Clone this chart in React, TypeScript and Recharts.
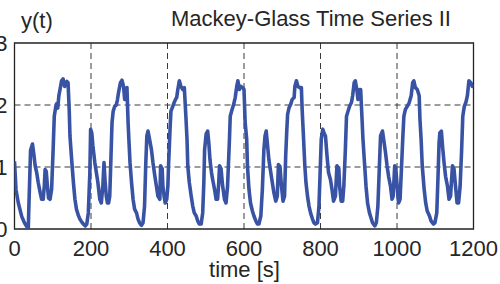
import React from "react";
import { LineChart, Line, XAxis, YAxis, CartesianGrid, ReferenceArea } from "recharts";

const time = [
  0, 4, 10, 19, 26, 32, 36, 38, 42, 47, 51, 54, 58, 62, 67, 71, 75, 78, 80, 83, 86, 89, 93, 97,
  101, 104, 108, 110, 113, 116, 119, 123, 127, 131, 134, 137, 140, 143, 145, 150, 154, 158, 162, 167, 171, 176, 180, 185, 189, 193, 197,
  199, 202, 205, 210, 214, 218, 223, 227, 231, 234, 237, 240, 243, 246, 249, 252, 255, 258, 262, 266, 269, 272, 277, 281, 285, 288, 291, 294, 297, 299,
  302, 306, 310, 314, 319, 323, 327, 332, 336, 340, 343, 346, 349, 353, 358, 362, 367, 371, 375, 380, 382, 386, 388, 391, 394, 398,
  401, 403, 407, 409, 414, 418, 421, 424, 427, 431, 435, 440, 444, 448, 451, 453, 457, 462, 466, 470, 475, 479, 483, 488, 492, 495, 497,
  501, 505, 508, 511, 515, 518, 523, 527, 531, 534, 536, 540, 544, 549, 553, 557, 562, 564, 569, 573, 577, 581, 584, 588, 592, 597, 600,
  603, 607, 609, 613, 617, 622, 626, 631, 635, 639, 644, 648, 652, 655, 658, 661, 665, 670, 674, 678, 683, 687, 690, 694, 698,
  702, 706, 709, 712, 714, 718, 722, 726, 731, 733, 737, 741, 746, 750, 752, 755, 759, 762, 766, 770, 774, 779, 783, 787, 792, 796, 799,
  802, 806, 809, 813, 817, 821, 826, 830, 834, 839, 843, 848, 850, 854, 858, 861, 865, 868, 872, 876, 881, 884, 888, 891, 895, 898,
  902, 905, 909, 911, 915, 919, 923, 928, 932, 936, 942, 946, 950, 954, 957, 962, 965, 970, 974, 978, 983, 987, 990, 994, 997,
  1001, 1004, 1008, 1012, 1015, 1018, 1022, 1027, 1032, 1037, 1041, 1044, 1048, 1053, 1058, 1060, 1063, 1066, 1071, 1075, 1079, 1085, 1089, 1095, 1099,
  1104, 1107, 1110, 1112, 1116, 1119, 1123, 1127, 1132, 1136, 1140, 1145, 1149, 1153, 1157, 1161, 1165, 1169, 1172, 1176, 1180, 1184, 1188, 1193, 1197, 1200,
];

const yValues = [
  1.09, 0.63, 0.42, 0.2, 0.1, 0.04, 0.0, 0.45, 1.27, 1.37, 1.18, 1.02, 0.91, 0.75, 0.59, 0.48, 0.48, 0.7, 0.96, 0.93, 0.7, 0.5, 0.48, 0.64,
  1.28, 1.82, 1.98, 2.02, 1.95, 2.15, 2.25, 2.39, 2.42, 2.3, 2.34, 2.38, 2.36, 1.93, 1.5, 1.07, 0.75, 0.48, 0.32, 0.22, 0.16, 0.11, 0.08, 0.05, 0.08, 0.26, 0.91,
  1.61, 1.55, 1.34, 1.07, 0.91, 0.75, 0.48, 0.42, 0.7, 1.07, 0.75, 0.53, 0.42, 0.42, 0.53, 1.12, 1.72, 1.9, 1.98, 2.0, 2.08, 2.2, 2.36, 2.4, 2.3, 2.09, 2.25, 2.28, 1.71, 1.45,
  1.07, 0.75, 0.48, 0.32, 0.26, 0.16, 0.1, 0.06, 0.1, 0.37, 1.02, 1.5, 1.58, 1.45, 1.28, 1.07, 0.85, 0.69, 0.53, 0.48, 1.02, 0.97, 0.69, 0.53, 0.42, 0.48,
  0.7, 1.07, 1.66, 1.9, 1.98, 2.05, 2.09, 2.12, 2.25, 2.39, 2.3, 2.25, 2.28, 1.82, 1.45, 1.02, 0.75, 0.53, 0.37, 0.26, 0.21, 0.13, 0.08, 0.08, 0.26, 0.75, 1.28,
  1.53, 1.58, 1.39, 1.12, 0.91, 0.8, 0.64, 0.48, 0.48, 0.75, 1.02, 0.97, 0.7, 0.48, 0.42, 0.69, 1.45, 1.82, 1.93, 2.01, 2.12, 2.3, 2.39, 2.25, 2.3, 2.28, 2.25,
  1.72, 1.45, 1.02, 0.64, 0.42, 0.29, 0.21, 0.13, 0.08, 0.08, 0.21, 0.64, 1.28, 1.5, 1.58, 1.39, 1.12, 0.91, 0.75, 0.59, 0.45, 0.53, 1.04, 1.01, 0.69,
  0.45, 0.53, 1.18, 1.61, 1.85, 1.96, 2.01, 2.09, 2.12, 2.3, 2.39, 2.3, 2.28, 2.28, 1.93, 1.55, 1.02, 0.75, 0.53, 0.37, 0.26, 0.16, 0.1, 0.08, 0.1, 0.37, 0.91,
  1.45, 1.61, 1.55, 1.5, 1.18, 0.91, 0.8, 0.64, 0.45, 0.53, 1.02, 0.97, 0.69, 0.45, 0.45, 0.69, 1.28, 1.82, 1.9, 1.98, 2.04, 2.15, 2.36, 2.39, 2.25, 2.09,
  2.25, 2.25, 1.72, 1.45, 1.07, 0.69, 0.42, 0.26, 0.18, 0.1, 0.05, 0.1, 0.37, 1.02, 1.5, 1.58, 1.45, 1.23, 1.02, 0.85, 0.69, 0.48, 0.53, 1.02, 0.97,
  0.64, 0.42, 0.48, 1.02, 1.45, 1.82, 1.93, 1.98, 2.04, 2.15, 2.36, 2.39, 2.28, 2.25, 2.15, 1.77, 1.45, 1.02, 0.64, 0.42, 0.29, 0.21, 0.13, 0.08, 0.1,
  0.26, 0.8, 1.39, 1.55, 1.58, 1.34, 1.07, 0.85, 0.69, 0.48, 0.53, 1.02, 0.97, 0.69, 0.42, 0.42, 0.69, 1.28, 1.82, 1.98, 2.04, 2.15, 2.39, 2.36, 2.3, 2.32,
];

const xTicks = [0, 200, 400, 600, 800, 1000, 1200];
const yTicks = [0, 1, 2, 3];

const titleText = "Mackey-Glass Time Series II";
const yLabelText = "y(t)";
const xLabelText = "time [s]";

const data = time.map((t, i) => ({ t, y: yValues[i] }));

const FONT = "'Liberation Sans', Arial, Helvetica, sans-serif";
const TEXT_COLOR = "#262626";

export default function App() {
  return (
    <div style={{ position: "absolute", left: 0, top: 0, width: 500, height: 284, background: "#fff", overflow: "hidden" }}>
      <LineChart
        width={500}
        height={284}
        data={data}
        margin={{ top: 43, right: 26.5, bottom: 0, left: 0 }}
      >
        <CartesianGrid
          stroke="#3a3a3a"
          strokeDasharray="6 4"
          strokeWidth={1}
          horizontalValues={[1, 2]}
          verticalValues={[200, 400, 600, 800, 1000]}
        />
        <XAxis
          dataKey="t"
          type="number"
          domain={[0, 1200]}
          ticks={xTicks}
          height={55}
          tickSize={0}
          tickMargin={11}
          axisLine={false}
          interval={0}
          allowDataOverflow
          tick={{ fontSize: 22, fontFamily: FONT, fill: TEXT_COLOR }}
        />
        <YAxis
          type="number"
          domain={[0, 3]}
          ticks={yTicks}
          width={14.5}
          tickSize={0}
          tickMargin={7}
          axisLine={false}
          interval={0}
          allowDataOverflow
          tick={{ fontSize: 22, fontFamily: FONT, fill: TEXT_COLOR }}
        />
        <ReferenceArea x1={0} x2={1200} y1={0} y2={3} fill="none" stroke="#222" strokeWidth={1.3} ifOverflow="visible" />
        <Line
          type="linear"
          dataKey="y"
          stroke="#3953a4"
          strokeWidth={3.6}
          dot={false}
          isAnimationActive={false}
          strokeLinejoin="round"
        />
      </LineChart>
      <svg width={500} height={284} style={{ position: "absolute", left: 0, top: 0, pointerEvents: "none" }}>
        <text x={311} y={26} textAnchor="middle" fontSize={22} fontFamily={FONT} fill={TEXT_COLOR}>
          {titleText}
        </text>
        <text x={21} y={27.5} textAnchor="start" fontSize={22} fontFamily={FONT} fill={TEXT_COLOR}>
          {yLabelText}
        </text>
        <text x={244.5} y={277} textAnchor="middle" fontSize={22} fontFamily={FONT} fill={TEXT_COLOR}>
          {xLabelText}
        </text>
      </svg>
    </div>
  );
}
